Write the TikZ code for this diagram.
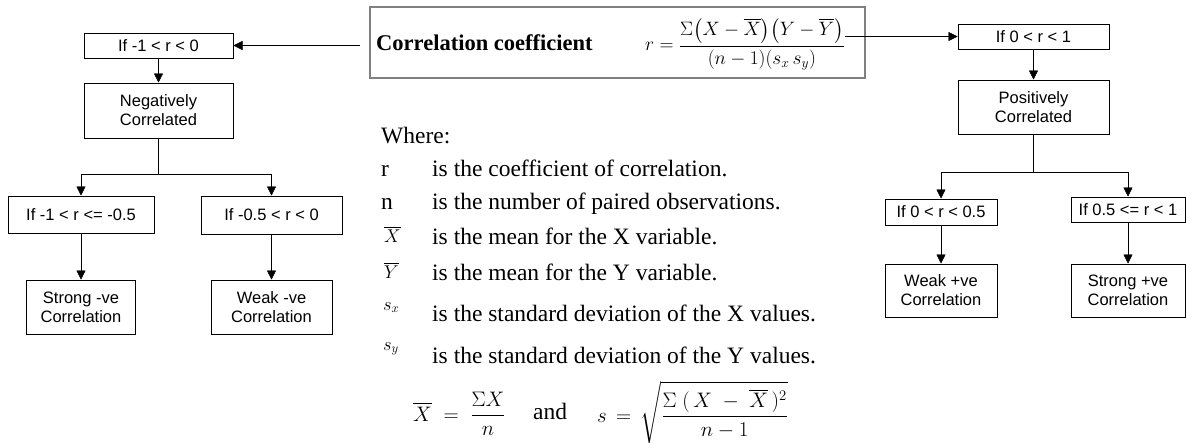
\RequirePackage{fix-cm}
\documentclass[tikz,border=0pt]{standalone}
\usepackage{amsmath}
\usepackage{fontspec}
\setsansfont{Liberation Sans}
\newfontfamily\bodyserif{Liberation Serif}
\usetikzlibrary{arrows.meta}

\newcommand{\boxfont}{\sffamily\fontsize{16.5}{19}\selectfont}
\newcommand{\bodyfont}{\bodyserif\fontsize{23.5}{28}\selectfont}

\begin{document}
\begin{tikzpicture}[x=1pt, y=-1pt, >={Triangle[length=9pt, width=9pt]},
    cond/.style={draw, line width=1pt, minimum height=25pt, inner sep=0pt, align=center, font=\boxfont},
    res/.style={draw, line width=1pt, minimum height=54pt, inner sep=0pt, align=center, font=\boxfont},
    sym/.style={anchor=base west, inner sep=0pt, font=\fontsize{18.5}{22}\selectfont},
    txt/.style={anchor=base west, inner sep=0pt, font=\bodyfont},
    eqn/.style={anchor=base west, inner sep=0pt, font=\fontsize{21}{25}\selectfont}]

  \useasboundingbox (0,0) rectangle (1186,442);

  % formula box
  \node[draw=black!50, line width=1.4pt, minimum width=495pt, minimum height=71pt] (top) at (617.5,42.5) {};
  \node[anchor=base west, inner sep=0pt, font=\bodyserif\bfseries\fontsize{22.5}{26}\selectfont] (title) at (376,50) {Correlation coefficient};
  \node[anchor=east, inner sep=0pt, font=\fontsize{19.4}{23}\selectfont] (frm) at (845,44) {$r=\dfrac{\Sigma\bigl(X-\overline{X}\bigr)\bigl(Y-\overline{Y}\bigr)}{(n-1)(s_x\,s_y)}$};
  \coordinate (tl) at (360,45.5);
  \coordinate (tr) at (845,36.5);

  % negative side
  \node[cond, minimum width=149pt] (nif) at (158.5,45.5) {If -1 < r < 0};
  \node[res, minimum width=149pt, minimum height=55pt] (neg) at (158.5,110.5) {Negatively\\Correlated};
  \node[cond, minimum width=146pt, minimum height=37pt] (nstrongif) at (81,214.5) {If -1 < r <= -0.5};
  \node[cond, minimum width=141pt, minimum height=38pt] (nweakif) at (271.5,215) {If -0.5 < r < 0};
  \node[res, minimum width=109pt] (nstrong) at (81,307) {Strong -ve\\Correlation};
  \node[res, minimum width=121pt] (nweak) at (271.5,307) {Weak -ve\\Correlation};
  \coordinate (nfork) at (158.5,174.5);

  % positive side
  \node[cond, minimum width=151pt] (pif) at (1033.5,36.5) {If 0 < r < 1};
  \node[res, minimum width=151pt] (pos) at (1033.5,107) {Positively\\Correlated};
  \node[cond, minimum width=112pt, minimum height=26pt] (pweakif) at (941,212) {If 0 < r < 0.5};
  \node[cond, minimum width=114pt] (pstrongif) at (1128,209.5) {If 0.5 <= r < 1};
  \node[res, minimum width=112pt, minimum height=53pt] (pweak) at (941,290.5) {Weak +ve\\Correlation};
  \node[res, minimum width=114pt, minimum height=53pt] (pstrong) at (1128,290.5) {Strong +ve\\Correlation};
  \coordinate (pfork) at (1033.5,172);

  \draw[->] (tl) -- (nif);
  \draw[->] (tr) -- (pif);
  \foreach \a/\b in {nif/neg, nstrongif/nstrong, nweakif/nweak, pif/pos, pweakif/pweak, pstrongif/pstrong}
    \draw[->] (\a) -- (\b);
  \draw (neg) -- (nfork);
  \draw[->] (nfork) -| (nstrongif);
  \draw[->] (nfork) -| (nweakif);
  \draw (pos) -- (pfork);
  \draw[->] (pfork) -| (pweakif);
  \draw[->] (pfork) -| (pstrongif);

  % legend
  \node[txt] (where) at (381,143) {Where:};
  \node[txt] (sr) at (381,176) {r};
  \node[txt] (dr) at (432,176) {is the coefficient of correlation.};
  \node[txt] (sn) at (381,209) {n};
  \node[txt] (dn) at (432,209) {is the number of paired observations.};
  \node[sym] (sxbar) at (384,242) {$\overline{X}$};
  \node[txt] (dxbar) at (432,244) {is the mean for the X variable.};
  \node[sym] (sybar) at (384,278) {$\overline{Y}$};
  \node[txt] (dybar) at (432,280) {is the mean for the Y variable.};
  \node[sym] (ssx) at (383,310) {$s_x$};
  \node[txt] (dsx) at (432,321) {is the standard deviation of the X values.};
  \node[sym] (ssy) at (383,350) {$s_y$};
  \node[txt] (dsy) at (432,363) {is the standard deviation of the Y values.};

  \node[eqn] (mean) at (413,421) {$\overline{X}\;=\;\dfrac{\Sigma X}{n}$};
  \node[txt] (and) at (533,419) {and};
  \node[eqn] (sdev) at (597,422) {$s\,=\,\sqrt{\dfrac{\Sigma\;(\,X\;-\;\overline{X}\,)^2}{n-1}}$};
\end{tikzpicture}
\end{document}
